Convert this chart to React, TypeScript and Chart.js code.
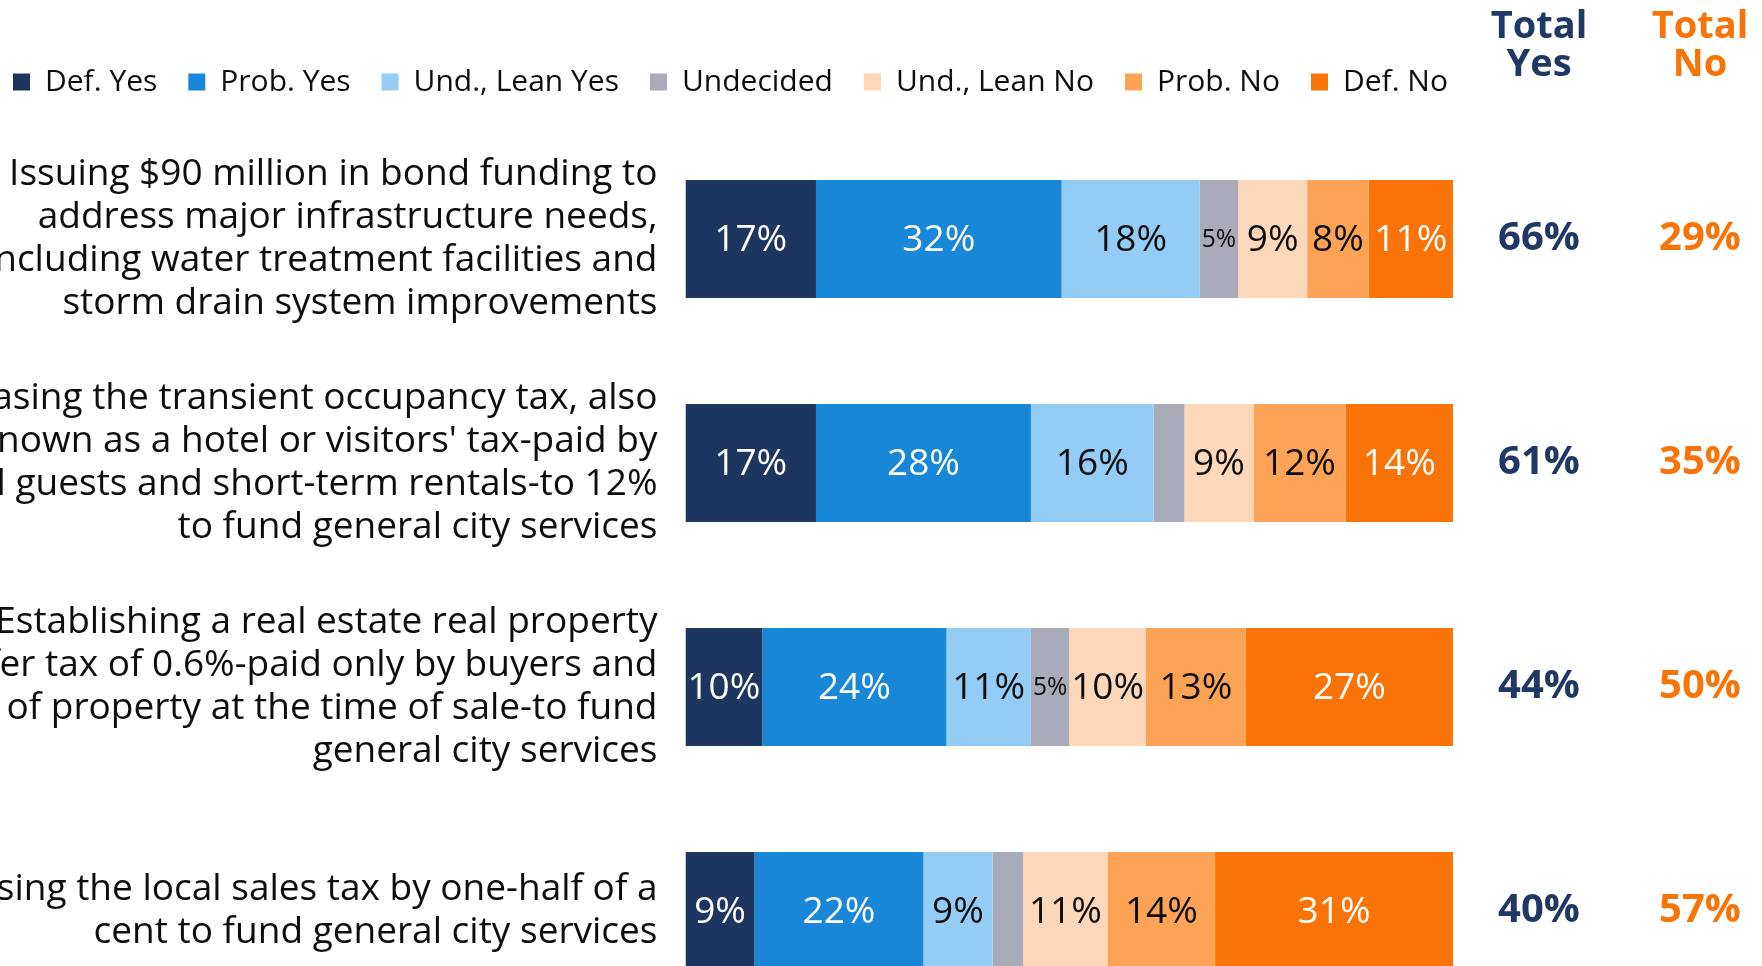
import React, { useEffect, useRef } from "react";
import { Chart, registerables } from "chart.js";

Chart.register(...registerables);

const categories: string[][] = [
  ["Issuing $90 million in bond funding to", "address major infrastructure needs,", "including water treatment facilities and", "storm drain system improvements"],
  ["Increasing the transient occupancy tax, also", "known as a hotel or visitors' tax-paid by", "hotel guests and short-term rentals-to 12%", "to fund general city services"],
  ["Establishing a real estate real property", "transfer tax of 0.6%-paid only by buyers and", "sellers of property at the time of sale-to fund", "general city services"],
  ["Increasing the local sales tax by one-half of a", "cent to fund general city services"],
];

const seriesNames = ["Def. Yes", "Prob. Yes", "Und., Lean Yes", "Undecided", "Und., Lean No", "Prob. No", "Def. No"];

const defYes = [17, 17, 10, 9];
const probYes = [32, 28, 24, 22];
const undLeanYes = [18, 16, 11, 9];
const undecided = [5, 4, 5, 4];
const undLeanNo = [9, 9, 10, 11];
const probNo = [8, 12, 13, 14];
const defNo = [11, 14, 27, 31];

const totalYes = [66, 61, 44, 40];
const totalNo = [29, 35, 50, 57];

const colors = ["#1D365F", "#1887D7", "#93CCF4", "#A9ABB8", "#FDD7B9", "#FDA355", "#F97306"];
const labelColors = ["#FFFFFF", "#FFFFFF", "#0D0D0D", "#0D0D0D", "#0D0D0D", "#0D0D0D", "#FFFFFF"];

const NAVY = "#1F3864";
const ORANGE = "#F97306";
const FONT = "'Open Sans', 'Noto Sans', sans-serif";

const barLabelPlugin = {
  id: "barLabels",
  afterDatasetsDraw(chart: any) {
    const ctx = chart.ctx;
    ctx.save();
    ctx.textAlign = "center";
    ctx.textBaseline = "middle";
    chart.data.datasets.forEach((ds: any, i: number) => {
      const meta = chart.getDatasetMeta(i);
      meta.data.forEach((el: any, j: number) => {
        const v = ds.data[j];
        if (v < 5) return;
        const text = v + "%";
        const segW = Math.abs(el.x - el.base);
        let size = 37;
        ctx.font = `${size}px ${FONT}`;
        const w = ctx.measureText(text).width;
        if (w > segW - 2) {
          size = size * (segW - 4) / w;
          ctx.font = `${size}px ${FONT}`;
        }
        ctx.fillStyle = labelColors[i];
        ctx.fillText(text, (el.x + el.base) / 2, el.y + 1);
      });
    });
    ctx.restore();
  },
};

const totalsPlugin = {
  id: "totals",
  afterDraw(chart: any) {
    const ctx = chart.ctx;
    const area = chart.chartArea;
    const yScale = chart.scales.y;
    const xYes = area.right + 86;
    const xNo = area.right + 247;
    ctx.save();
    ctx.textAlign = "center";
    ctx.textBaseline = "middle";
    ctx.font = `bold 38px ${FONT}`;
    ctx.fillStyle = NAVY;
    ctx.fillText("Total", xYes, 27);
    ctx.fillText("Yes", xYes, 65);
    ctx.fillStyle = ORANGE;
    ctx.fillText("Total", xNo, 27);
    ctx.fillText("No", xNo, 65);
    ctx.font = `bold 40px ${FONT}`;
    totalYes.forEach((v, i) => {
      const y = yScale.getPixelForValue(i);
      ctx.fillStyle = NAVY;
      ctx.fillText(v + "%", xYes, y);
      ctx.fillStyle = ORANGE;
      ctx.fillText(totalNo[i] + "%", xNo, y);
    });
    ctx.restore();
  },
};

export default function App() {
  const ref = useRef<HTMLCanvasElement | null>(null);

  useEffect(() => {
    if (!ref.current) return;
    const values = [defYes, probYes, undLeanYes, undecided, undLeanNo, probNo, defNo];
    const chart = new Chart(ref.current, {
      type: "bar",
      data: {
        labels: categories as any,
        datasets: values.map((d, i) => ({
          label: seriesNames[i],
          data: d,
          backgroundColor: colors[i],
          borderWidth: 0,
          categoryPercentage: 0.527,
          barPercentage: 1,
        })),
      },
      options: {
        indexAxis: "y",
        responsive: false,
        animation: false,
        layout: { padding: { top: 36, left: -18, right: 0, bottom: 0 } },
        scales: {
          x: {
            stacked: true,
            min: 0,
            max: 100,
            position: "top",
            display: true,
            ticks: { display: false },
            grid: { display: false, drawTicks: false },
            border: { display: false },
            afterFit: (s: any) => { s.height = 20; },
          },
          y: {
            stacked: true,
            position: "left",
            grid: { display: false, drawTicks: false },
            border: { display: false },
            ticks: {
              padding: 28,
              color: "#0D0D0D",
              autoSkip: false,
              font: { family: FONT, size: 37, lineHeight: "42.7px" } as any,
            },
            afterFit: (s: any) => {
              s.width = 703.5;
              s.paddingTop = 0;
              s.paddingBottom = 0;
            },
          },
          y2: {
            type: "category",
            position: "right",
            grid: { display: false, drawTicks: false },
            border: { display: false },
            ticks: { display: false },
            afterFit: (s: any) => { s.width = 309; },
          },
        },
        plugins: {
          legend: {
            display: true,
            position: "top",
            align: "start",
            labels: {
              boxWidth: 17,
              boxHeight: 17,
              padding: 31,
              color: "#0D0D0D",
              font: { family: FONT, size: 30 },
            },
          },
          tooltip: { enabled: false },
          title: { display: false },
        },
      },
      plugins: [barLabelPlugin, totalsPlugin],
    });
    return () => chart.destroy();
  }, []);

  return (
    <div style={{ position: "fixed", left: 0, top: 0, width: 1762, height: 966, overflow: "hidden", background: "#fff" }}>
      <canvas ref={ref} width={1762} height={1023} style={{ width: 1762, height: 1023, display: "block" }} />
    </div>
  );
}
